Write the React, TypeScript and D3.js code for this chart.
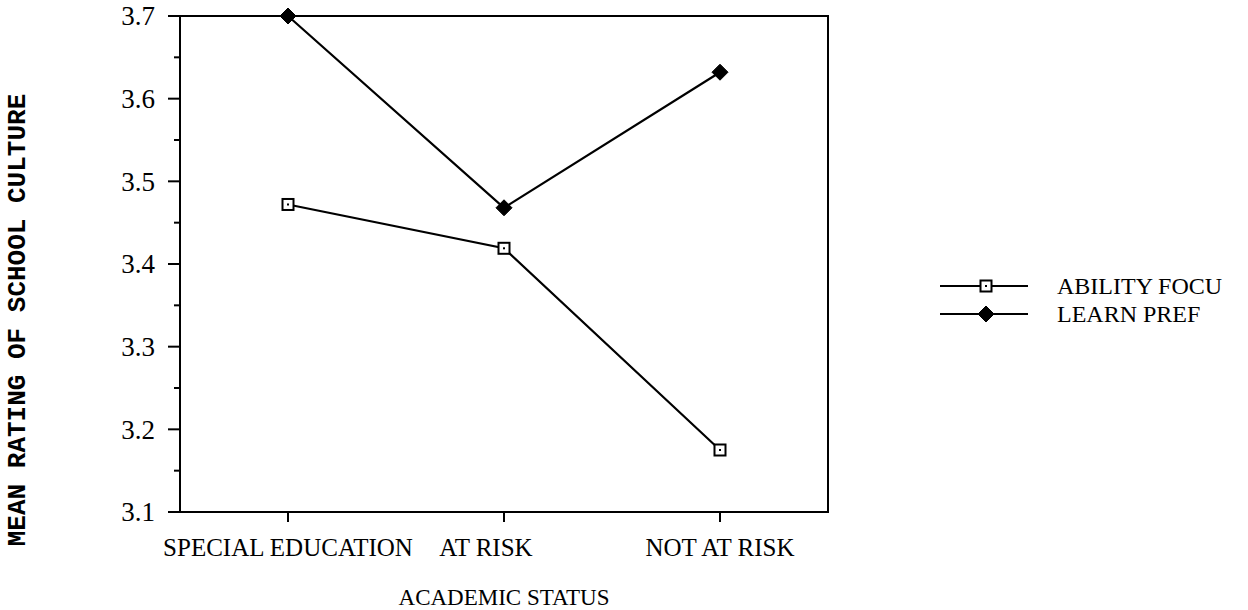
import React from "react";
import * as d3 from "d3";

const categories = ["SPECIAL EDUCATION", "AT RISK", "NOT AT RISK"];
const abilityFocus = [3.472, 3.419, 3.175];
const learnPref = [3.7, 3.468, 3.632];
const yTicks = [3.1, 3.2, 3.3, 3.4, 3.5, 3.6, 3.7];
const yMinorTicks = [3.15, 3.25, 3.35, 3.45, 3.55, 3.65];
const seriesNames = ["ABILITY FOCU", "LEARN PREF"];
const xTitle = "ACADEMIC STATUS";
const yTitle = "MEAN RATING OF SCHOOL CULTURE";

const W = 1248;
const H = 610;
const left = 180;
const right = 828;
const top = 16;
const bottom = 512;
const serif = "'Liberation Serif', 'Times New Roman', serif";
const labelShift = [0, -18, 0];

export default function App() {
  const x = d3.scalePoint<string>().domain(categories).range([left, right]).padding(0.5);
  const y = d3.scaleLinear().domain([3.1, 3.7]).range([bottom, top]);
  const line = d3
    .line<number>()
    .x((_, i) => x(categories[i]) as number)
    .y((d) => y(d));

  const square = (cx: number, cy: number, key: string) => (
    <g key={key}>
      <rect x={cx - 5.5} y={cy - 5.5} width={11} height={11} fill="#fff" stroke="#000" strokeWidth={2} />
      <rect x={cx - 1} y={cy - 1} width={2} height={2} fill="#000" />
    </g>
  );
  const diamond = (cx: number, cy: number, key: string) => (
    <path
      key={key}
      d={`M${cx},${cy - 8}L${cx + 8},${cy}L${cx},${cy + 8}L${cx - 8},${cy}Z`}
      fill="#000"
      stroke="#000"
      strokeWidth={1}
      strokeLinejoin="round"
    />
  );

  return (
    <svg width={W} height={H} style={{ position: "absolute", left: 0, top: 0, background: "#fff" }}>
      <rect x={0} y={0} width={W} height={H} fill="#fff" />
      {/* frame */}
      <rect x={left} y={top} width={right - left} height={bottom - top} fill="none" stroke="#000" strokeWidth={2} />
      {/* y ticks */}
      {yTicks.map((t) => (
        <g key={"yt" + t}>
          <line x1={left - 12} x2={left} y1={y(t)} y2={y(t)} stroke="#000" strokeWidth={2} />
          <text
            x={left - 25}
            y={y(t)}
            dy="0.35em"
            textAnchor="end"
            fontFamily={serif}
            fontSize={27}
            fill="#000"
          >
            {t.toFixed(1)}
          </text>
        </g>
      ))}
      {yMinorTicks.map((t) => (
        <line key={"ym" + t} x1={left - 6} x2={left} y1={y(t)} y2={y(t)} stroke="#000" strokeWidth={2} />
      ))}
      {/* x ticks */}
      {categories.map((c, i) => (
        <g key={"xt" + c}>
          <line x1={x(c)} x2={x(c)} y1={bottom} y2={bottom + 10} stroke="#000" strokeWidth={2} />
          <text
            x={(x(c) as number) + labelShift[i]}
            y={bottom + 44}
            textAnchor="middle"
            fontFamily={serif}
            fontSize={25}
            fill="#000"
          >
            {c}
          </text>
        </g>
      ))}
      {/* series */}
      <path d={line(abilityFocus) || ""} fill="none" stroke="#000" strokeWidth={2.2} />
      <path d={line(learnPref) || ""} fill="none" stroke="#000" strokeWidth={2.2} />
      {abilityFocus.map((v, i) => square(x(categories[i]) as number, y(v), "a" + i))}
      {learnPref.map((v, i) => diamond(x(categories[i]) as number, y(v), "l" + i))}
      {/* axis titles */}
      <text x={(left + right) / 2 + 0} y={605} textAnchor="middle" fontFamily={serif} fontSize={23} fill="#000">
        {xTitle}
      </text>
      <text
        transform={`translate(25, ${(top + bottom) / 2 + 56}) rotate(-90)`}
        textAnchor="middle"
        fontFamily="'Liberation Mono', 'DejaVu Sans Mono', monospace"
        fontWeight="bold"
        fontSize={26}
        fill="#000"
      >
        {yTitle}
      </text>
      {/* legend */}
      {seriesNames.map((n, i) => {
        const ly = 286 + i * 28;
        return (
          <g key={"lg" + n}>
            <line x1={940} x2={1028} y1={ly} y2={ly} stroke="#000" strokeWidth={2} />
            {i === 0 ? square(986, ly, "ls" + i) : diamond(986, ly, "ld" + i)}
            <text x={1057} y={ly} dy="0.35em" fontFamily={serif} fontSize={24} fill="#000">
              {n}
            </text>
          </g>
        );
      })}
    </svg>
  );
}
